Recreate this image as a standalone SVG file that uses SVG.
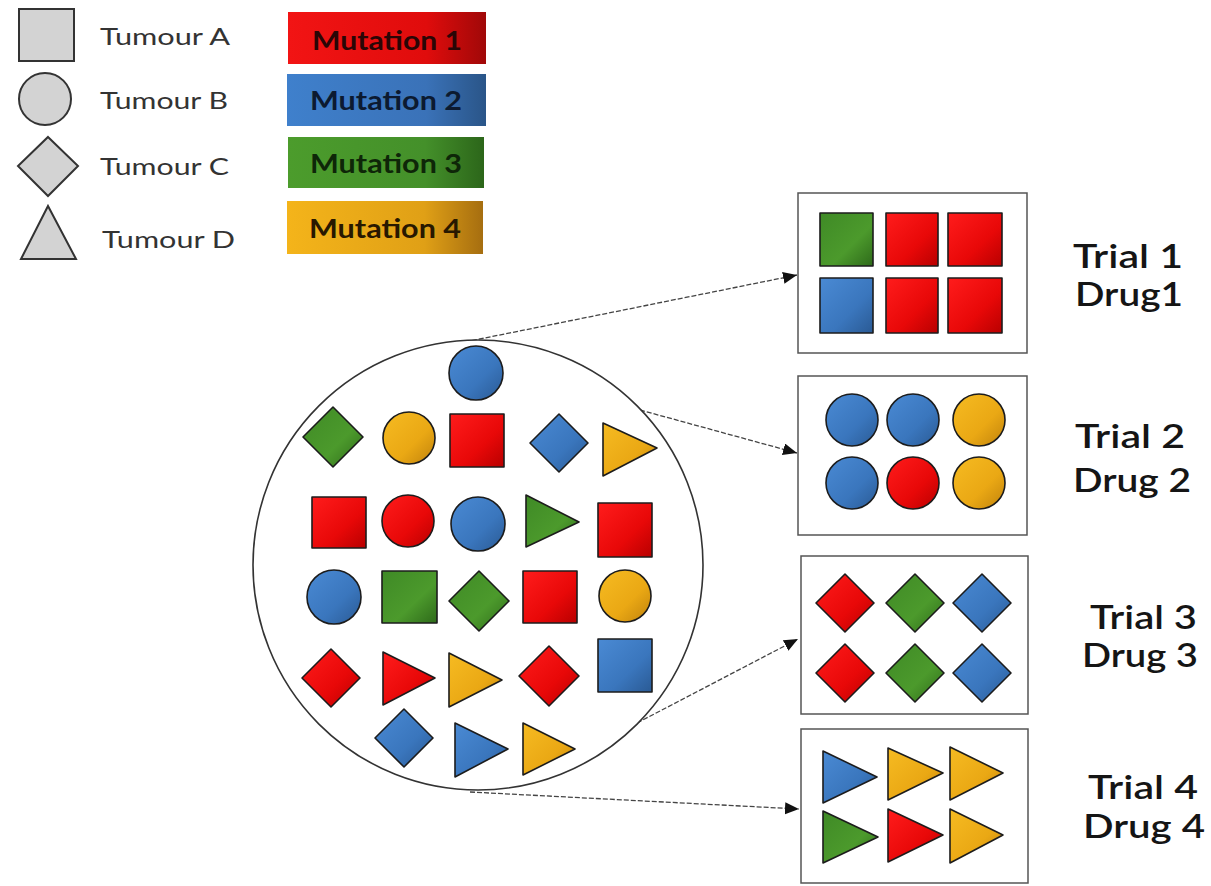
<svg xmlns="http://www.w3.org/2000/svg" width="1211" height="886" viewBox="0 0 1211 886">
<style>
.lg{fill:#d3d3d3;stroke:#333;stroke-width:2}
.tl{font-family:Lato,"Liberation Sans",sans-serif;font-size:24px;fill:#333}
.mt{font-family:Lato,"Liberation Sans",sans-serif;font-size:26px;font-weight:bold}
.tr{font-family:Lato,"Liberation Sans",sans-serif;font-size:33px;fill:#151515;font-weight:600}
.r{fill:url(#gr)}.b{fill:url(#gb)}.g{fill:url(#gg)}.o{fill:url(#go)}
.s{stroke:#1c1c1c;stroke-width:1.6;stroke-linejoin:round}
.box{fill:#fff;stroke:#555;stroke-width:1.5}
.pop{fill:#fff;stroke:#333;stroke-width:1.6}
.cn{fill:none;stroke:#444;stroke-width:1.3;stroke-dasharray:5 2}
</style>
<defs>
<linearGradient id="gr" x1="0" y1="0" x2="1" y2="1"><stop offset="0" stop-color="#ff1c1c"/><stop offset="0.6" stop-color="#e80808"/><stop offset="1" stop-color="#b80000"/></linearGradient>
<linearGradient id="gb" x1="0" y1="0" x2="1" y2="1"><stop offset="0" stop-color="#4a8ad4"/><stop offset="0.6" stop-color="#3a76bd"/><stop offset="1" stop-color="#2a5a94"/></linearGradient>
<linearGradient id="gg" x1="0" y1="0" x2="1" y2="1"><stop offset="0" stop-color="#3f8a26"/><stop offset="0.6" stop-color="#4c9a2c"/><stop offset="1" stop-color="#2e6a1a"/></linearGradient>
<linearGradient id="go" x1="0" y1="0" x2="1" y2="1"><stop offset="0" stop-color="#f6bb22"/><stop offset="0.6" stop-color="#eaa814"/><stop offset="1" stop-color="#c0820c"/></linearGradient>
<linearGradient id="mr" x1="0" y1="0" x2="1" y2="0"><stop offset="0" stop-color="#f21414"/><stop offset="0.7" stop-color="#e00c0c"/><stop offset="1" stop-color="#a00808"/></linearGradient>
<linearGradient id="mb" x1="0" y1="0" x2="1" y2="0"><stop offset="0" stop-color="#3f80cc"/><stop offset="0.7" stop-color="#3a72b8"/><stop offset="1" stop-color="#2a5588"/></linearGradient>
<linearGradient id="mg" x1="0" y1="0" x2="1" y2="0"><stop offset="0" stop-color="#4c9c2c"/><stop offset="0.7" stop-color="#44902a"/><stop offset="1" stop-color="#2c661a"/></linearGradient>
<linearGradient id="mo" x1="0" y1="0" x2="1" y2="0"><stop offset="0" stop-color="#f4b41a"/><stop offset="0.7" stop-color="#e0a016"/><stop offset="1" stop-color="#a66e10"/></linearGradient>
<marker id="ah" markerUnits="userSpaceOnUse" markerWidth="16" markerHeight="14" refX="14" refY="6" orient="auto"><path d="M0,0 L14,6 L0,12 z" fill="#111"/></marker>
</defs>
<rect width="1211" height="886" fill="#fff"/>

<g id="legend-tumours">
<g id="tumour-a"><rect class="lg" x="19" y="9" width="55" height="52"/><text class="tl" x="100" y="45" textLength="130" lengthAdjust="spacingAndGlyphs">Tumour A</text></g>
<g id="tumour-b"><circle class="lg" cx="45" cy="99" r="26"/><text class="tl" x="100" y="109" textLength="128" lengthAdjust="spacingAndGlyphs">Tumour B</text></g>
<g id="tumour-c"><polygon class="lg" points="48,137 78,166 48,196 18,166"/><text class="tl" x="100" y="175" textLength="129" lengthAdjust="spacingAndGlyphs">Tumour C</text></g>
<g id="tumour-d"><polygon class="lg" points="48,206 76,259 21,259"/><text class="tl" x="102" y="248" textLength="133" lengthAdjust="spacingAndGlyphs">Tumour D</text></g>
</g>

<g id="legend-mutations">
<g id="mutation-1"><rect x="288" y="12" width="198" height="52" fill="url(#mr)"/><text class="mt" x="312" y="50" fill="#2a0606" textLength="150" lengthAdjust="spacingAndGlyphs">Mutation 1</text></g>
<g id="mutation-2"><rect x="287" y="74" width="199" height="52" fill="url(#mb)"/><text class="mt" x="310" y="110" fill="#0c1a30" textLength="152" lengthAdjust="spacingAndGlyphs">Mutation 2</text></g>
<g id="mutation-3"><rect x="288" y="137" width="196" height="51" fill="url(#mg)"/><text class="mt" x="310" y="173" fill="#0e2608" textLength="152" lengthAdjust="spacingAndGlyphs">Mutation 3</text></g>
<g id="mutation-4"><rect x="287" y="201" width="196" height="53" fill="url(#mo)"/><text class="mt" x="309" y="238" fill="#281800" textLength="152" lengthAdjust="spacingAndGlyphs">Mutation 4</text></g>
</g>

<g id="connectors">
<line class="cn" x1="465" y1="342" x2="797" y2="275" marker-end="url(#ah)"/>
<line class="cn" x1="640" y1="410" x2="797" y2="453" marker-end="url(#ah)"/>
<line class="cn" x1="637" y1="723" x2="798" y2="639" marker-end="url(#ah)"/>
<line class="cn" x1="470" y1="792" x2="799" y2="809" marker-end="url(#ah)"/>
</g>

<g id="population">
<circle class="pop" cx="478" cy="565" r="225"/>
<circle class="b s" cx="476" cy="373" r="27"/>
<polygon class="g s" points="333,407 363,437 333,467 303,437"/>
<circle class="o s" cx="409" cy="438" r="26"/>
<rect class="r s" x="450" y="414" width="54" height="53"/>
<polygon class="b s" points="559,414 588,443 559,472 530,443"/>
<polygon class="o s" points="603,423 657,448 603,476"/>
<rect class="r s" x="312" y="497" width="54" height="51"/>
<circle class="r s" cx="408" cy="521" r="26"/>
<circle class="b s" cx="478" cy="524" r="27"/>
<polygon class="g s" points="526,495 579,522 526,547"/>
<rect class="r s" x="598" y="503" width="54" height="54"/>
<circle class="b s" cx="334" cy="597" r="27"/>
<rect class="g s" x="382" y="571" width="55" height="52"/>
<polygon class="g s" points="479,571 509,601 479,631 449,601"/>
<rect class="r s" x="523" y="571" width="54" height="52"/>
<circle class="o s" cx="625" cy="596" r="26"/>
<polygon class="r s" points="331,649 360,678 331,707 302,678"/>
<polygon class="r s" points="383,652 435,678 383,705"/>
<polygon class="o s" points="449,653 502,680 449,707"/>
<polygon class="r s" points="549,646 579,676 549,706 519,676"/>
<rect class="b s" x="598" y="639" width="54" height="53"/>
<polygon class="b s" points="404,709 433,738 404,767 375,738"/>
<polygon class="b s" points="455,723 508,749 455,777"/>
<polygon class="o s" points="523,723 575,749 523,775"/>
</g>

<g id="trial-1">
<rect class="box" x="798" y="193" width="229" height="160"/>
<rect class="g s" x="820" y="213" width="53" height="53"/>
<rect class="r s" x="886" y="213" width="52" height="53"/>
<rect class="r s" x="948" y="213" width="54" height="53"/>
<rect class="b s" x="820" y="278" width="53" height="55"/>
<rect class="r s" x="886" y="278" width="52" height="55"/>
<rect class="r s" x="948" y="278" width="54" height="55"/>
<text class="tr" x="1073" y="268" textLength="110" lengthAdjust="spacingAndGlyphs">Trial 1</text>
<text class="tr" x="1075" y="306" textLength="108" lengthAdjust="spacingAndGlyphs">Drug1</text>
</g>

<g id="trial-2">
<rect class="box" x="798" y="376" width="229" height="159"/>
<circle class="b s" cx="852" cy="420" r="26"/>
<circle class="b s" cx="913" cy="420" r="26"/>
<circle class="o s" cx="979" cy="420" r="26"/>
<circle class="b s" cx="852" cy="483" r="26"/>
<circle class="r s" cx="913" cy="483" r="26"/>
<circle class="o s" cx="979" cy="483" r="26"/>
<text class="tr" x="1075" y="448" textLength="110" lengthAdjust="spacingAndGlyphs">Trial 2</text>
<text class="tr" x="1073" y="492" textLength="118" lengthAdjust="spacingAndGlyphs">Drug 2</text>
</g>

<g id="trial-3">
<rect class="box" x="801" y="556" width="227" height="158"/>
<polygon class="r s" points="845,574 874,603 845,632 816,603"/>
<polygon class="g s" points="915,574 944,603 915,632 886,603"/>
<polygon class="b s" points="982,574 1011,603 982,632 953,603"/>
<polygon class="r s" points="845,644 874,673 845,702 816,673"/>
<polygon class="g s" points="915,644 944,673 915,702 886,673"/>
<polygon class="b s" points="982,644 1011,673 982,702 953,673"/>
<text class="tr" x="1090" y="629" textLength="107" lengthAdjust="spacingAndGlyphs">Trial 3</text>
<text class="tr" x="1082" y="667" textLength="116" lengthAdjust="spacingAndGlyphs">Drug 3</text>
</g>

<g id="trial-4">
<rect class="box" x="801" y="729" width="227" height="154"/>
<polygon class="b s" points="823,751 877,777 823,803"/>
<polygon class="o s" points="888,748 943,773 888,800"/>
<polygon class="o s" points="950,747 1003,773 950,800"/>
<polygon class="g s" points="823,811 878,837 823,863"/>
<polygon class="r s" points="888,809 943,835 888,862"/>
<polygon class="o s" points="950,809 1003,835 950,863"/>
<text class="tr" x="1088" y="799" textLength="110" lengthAdjust="spacingAndGlyphs">Trial 4</text>
<text class="tr" x="1083" y="838" textLength="122" lengthAdjust="spacingAndGlyphs">Drug 4</text>
</g>
</svg>
